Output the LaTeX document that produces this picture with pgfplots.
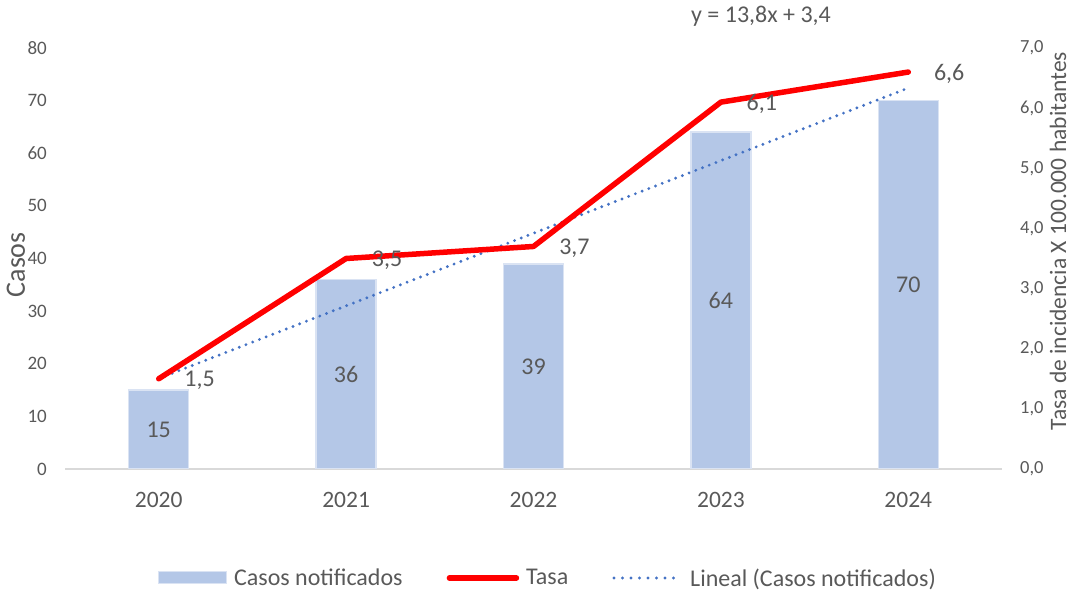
\documentclass[border=0pt]{standalone}
\usepackage{pgfplots}
\pgfplotsset{compat=1.18}
\usepackage{pgfplotstable}
\usepackage{fontspec}
\setmainfont{Carlito}
\definecolor{barfill}{HTML}{B4C7E7}
\definecolor{barline}{HTML}{DAE3F3}
\definecolor{txt}{HTML}{595959}
\definecolor{trend}{HTML}{4472C4}
\definecolor{axisgray}{HTML}{D9D9D9}
\pgfplotsset{
  lineleg/.style={legend image code/.code={\draw[##1] (2.5bp,0bp) -- (69.5bp,0bp);}},
  dotleg/.style={legend image code/.code={\draw[##1] (1.5bp,0bp) -- (69bp,0bp);}},
  barleg/.style={legend image code/.code={\draw[fill=barfill, draw=barline, line width=1bp] (0bp,-6bp) rectangle (68bp,6bp);}},
}

\pgfplotstableread{
x y
0 15
1 36
2 39
3 64
4 70
}\casos
\pgfplotstableread{
x y
0 1.5
1 3.5
2 3.7
3 6.1
4 6.6
}\tasa
\pgfplotstableread{
x y
0 17.2
1 31.0
2 44.8
3 58.6
4 72.4
}\trendline

\begin{document}
\begin{tikzpicture}
\useasboundingbox (0,0) rectangle (1072bp,600bp);
\pgfplotsset{
  common/.style={
    scale only axis, width=937bp, height=421bp,
    at={(65bp,131bp)}, anchor=south west,
    xmin=-0.5, xmax=4.5,
    tick style={draw=none}, major tick length=0pt,
    axis line style={-},
    tick label style={text=txt, inner sep=0pt},
    /pgf/number format/assume math mode=true,
  }
}
\begin{axis}[common,
  ymin=0, ymax=80, ytick={0,10,...,80},
  axis x line*=bottom, axis y line*=left,
  x axis line style={axisgray, line width=1.5bp},
  y axis line style={draw=none},
  xtick={0,1,2,3,4}, xticklabels={2020,2021,2022,2023,2024},
  xticklabel style={font=\fontsize{23.5bp}{25bp}\selectfont, anchor=base, yshift=-39bp},
  yticklabel style={font=\fontsize{19bp}{21bp}\selectfont, anchor=east, xshift=-18bp},
  ylabel={Casos}, ylabel style={font=\fontsize{28bp}{30bp}\selectfont, text=txt, at={(axis description cs:-0.0523,0.485)}, anchor=center, rotate=0},
]
\addplot[ybar, bar width=60bp, bar shift=0pt, fill=barfill, draw=barline, line width=1.5bp] table[x=x,y=y]{\casos};
\addplot[draw=none, mark=none, nodes near coords, point meta=explicit symbolic,
  every node near coord/.append style={anchor=center, font=\fontsize{24bp}{26bp}\selectfont, text=txt}]
  table[x=x, y expr=\thisrow{y}/2, meta=y]{\casos};
\addplot[trend, line width=3.2bp, line cap=round, dash pattern=on 0bp off 7.2bp] table[x=x,y=y]{\trendline};
\end{axis}
\begin{axis}[common,
  ymin=0, ymax=7, ytick={0,1,...,7},
  axis x line=none, axis y line*=right,
  y axis line style={draw=none},
  yticklabel style={/pgf/number format/use comma, /pgf/number format/fixed, /pgf/number format/fixed zerofill, /pgf/number format/precision=1,
    font=\fontsize{18.5bp}{20bp}\selectfont, anchor=west, xshift=18bp},
  ylabel={Tasa de incidencia X 100.000 habitantes},
  ylabel style={font=\fontsize{23.5bp}{25bp}\selectfont, text=txt, at={(axis description cs:1.0683,0.541)}, anchor=base, rotate=0},
  legend style={at={(axis description cs:0.5144,-0.2589)}, anchor=center, draw=none, fill=none,
    legend columns=3, font=\fontsize{24bp}{26bp}\selectfont, text=txt,
    /tikz/every odd column/.append style={column sep=7bp},
    /tikz/every even column/.append style={column sep=44bp},
    nodes={inner sep=0pt}},
  legend cell align=left,
]
\addlegendimage{barleg}
\addlegendentry{Casos notificados}
\addplot[red, line width=5.5bp, line cap=round, line join=round, mark=none, lineleg,
  nodes near coords={\pgfmathprintnumber[use comma, fixed, fixed zerofill, precision=1, assume math mode=true]{\pgfplotspointmeta}},
  every node near coord/.append style={anchor=west, inner sep=0pt, xshift=23bp, yshift=-2bp, font=\fontsize{24bp}{26bp}\selectfont, text=txt}]
  table[x=x, y=y]{\tasa};
\addlegendentry{Tasa}
\addlegendimage{trend, line width=3.3bp, line cap=round, dash pattern=on 0bp off 8.5bp, dotleg}
\addlegendentry{Lineal (Casos notificados)}
\end{axis}
\node[text=txt, font=\fontsize{24bp}{26bp}\selectfont, anchor=base] at (761bp,577bp) {y = 13,8x + 3,4};
\end{tikzpicture}
\end{document}
